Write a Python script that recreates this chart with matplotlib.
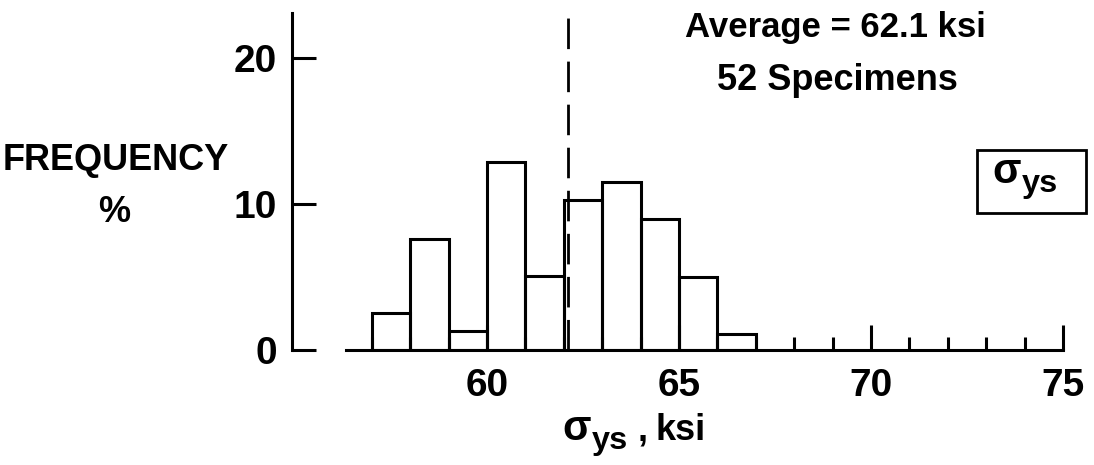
import matplotlib
matplotlib.use("Agg")
import matplotlib.pyplot as plt
import numpy as np

plt.rcParams['font.family'] = ['Liberation Sans', 'DejaVu Sans']
plt.rcParams['font.weight'] = 'bold'

# yield strength histogram, 1 ksi bins
bin_left = [57, 58, 59, 60, 61, 62, 63, 64, 65, 66]
freq_pct = [2.5, 7.6, 1.3, 12.9, 5.1, 10.3, 11.5, 9.0, 5.0, 1.1]
average = 62.1
n_specimens = 52

x_major = [60, 65, 70, 75]
x_minor = list(range(57, 75))
y_major = [0, 10, 20]

fig = plt.figure(figsize=(10.94, 4.65), dpi=100)
W, H = 1094.0, 465.0
ax = fig.add_axes([292 / W, 115 / H, 771 / W, 337 / H])
ax.set_xlim(54.92, 75)
ax.set_ylim(0, 23.08)

lw = 2.2
ax.bar(bin_left, freq_pct, width=1, align='edge', fill=False,
       edgecolor='black', linewidth=lw, zorder=3)
ax.axvline(average, ymin=0, ymax=1.015, color='black', linewidth=2.0,
           dashes=(11, 4.5), clip_on=False, zorder=4)

for s in ['top', 'right']:
    ax.spines[s].set_visible(False)
ax.spines['left'].set_linewidth(lw)
ax.spines['bottom'].set_linewidth(lw)
ax.spines['bottom'].set_bounds(56.33, 75)

ax.set_xticks(x_major)
ax.set_xticks(x_minor, minor=True)
ax.set_yticks(y_major)
ax.tick_params(axis='x', which='major', direction='in', length=18, width=lw,
               pad=13, labelsize=28)
ax.tick_params(axis='x', which='minor', direction='in', length=9.5, width=lw)
ax.tick_params(axis='y', which='major', direction='in', length=17, width=lw,
               pad=11, labelsize=28)
for lab in ax.get_xticklabels() + ax.get_yticklabels():
    lab.set_fontweight('bold')


def px(x, y):
    return x / W, 1 - y / H


def sigma_ys(x, y, size):
    # sigma with a large "ys" subscript, placed by pixel position of the baseline
    fig.text(*px(x, y), '\u03c3', ha='right', va='baseline',
             fontsize=size, fontweight='bold')
    fig.text(*px(x + 1, y + 9), 'ys', ha='left', va='baseline',
             fontsize=size * 0.78, fontweight='bold')


fig.text(*px(116, 160), 'FREQUENCY', ha='center', va='center',
         fontsize=26, fontweight='bold')
fig.text(*px(114, 213), '%', ha='center', va='center',
         fontsize=26, fontweight='bold')

fig.text(*px(835, 27), 'Average = {} ksi'.format(average),
         ha='center', va='center', fontsize=25, fontweight='bold')
fig.text(*px(837, 81), '{} Specimens'.format(n_specimens),
         ha='center', va='center', fontsize=26, fontweight='bold')

box = plt.Rectangle(px(977, 213), 109 / W, 63 / H, fill=False,
                    edgecolor='black', linewidth=2.0, transform=fig.transFigure)
fig.patches.append(box)
sigma_ys(1021, 183, 30)

sigma_ys(591, 440, 30)
fig.text(*px(638, 440), ',', ha='left', va='baseline',
         fontsize=26, fontweight='bold')
fig.text(*px(656, 440), 'ksi', ha='left', va='baseline',
         fontsize=26, fontweight='bold')

fig.savefig('out.png', dpi=100)
